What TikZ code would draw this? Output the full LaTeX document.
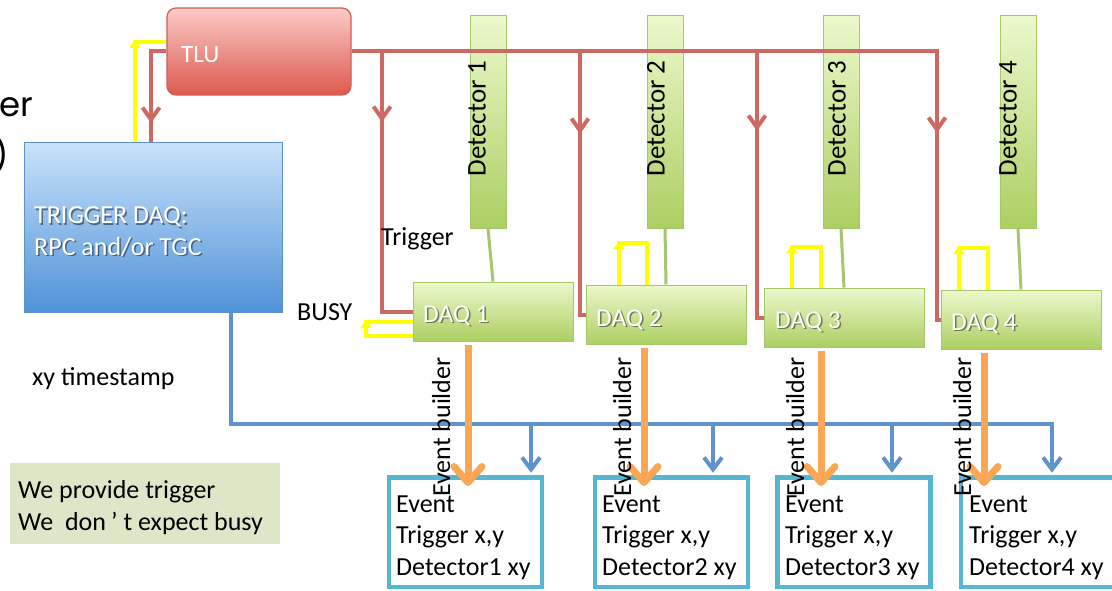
\documentclass[tikz,border=0pt]{standalone}
\usepackage{fontspec}
\setmainfont{Carlito}
\newfontfamily\gothicfont{Poppins}
\usetikzlibrary{arrows.meta,calc}
\definecolor{redln}{RGB}{206,104,98}
\definecolor{tlutop}{RGB}{252,202,200}
\definecolor{tlubot}{RGB}{220,90,78}
\definecolor{tlubrd}{RGB}{205,95,88}
\definecolor{bluetop}{RGB}{200,226,250}
\definecolor{bluebot}{RGB}{80,146,216}
\definecolor{bluebrd}{RGB}{95,145,205}
\definecolor{blueln}{RGB}{96,146,204}
\definecolor{grntop}{RGB}{236,249,204}
\definecolor{grnbot}{RGB}{172,207,98}
\definecolor{grnbrd}{RGB}{165,200,105}
\definecolor{grnln}{RGB}{165,198,110}
\definecolor{orangeln}{RGB}{250,166,84}
\definecolor{cyanln}{RGB}{86,182,208}
\definecolor{notefill}{RGB}{222,230,200}
\definecolor{yelln}{RGB}{255,255,0}
\tikzset{
  tlubox/.style={draw=tlubrd, line width=1.2pt, rounded corners=9pt, top color=tlutop, bottom color=tlubot, minimum width=184pt, minimum height=87pt, inner sep=0pt},
  trigbox/.style={draw=bluebrd, line width=1pt, top color=bluetop, bottom color=bluebot, minimum width=258pt, minimum height=169pt, inner sep=0pt},
  detbox/.style={draw=grnbrd, line width=1pt, top color=grntop, bottom color=grnbot, minimum width=36pt, minimum height=212pt, inner sep=0pt},
  daqbox/.style={draw=grnbrd, line width=1pt, top color=grntop, bottom color=grnbot, minimum width=160pt, minimum height=59pt, inner sep=0pt},
  evbox/.style={draw=cyanln, line width=4.5pt, fill=white, minimum width=153pt, minimum height=109.5pt, inner sep=0pt},
  notebox/.style={fill=notefill, minimum width=270pt, minimum height=81pt, inner sep=0pt},
  txt/.style={font=\fontsize{26}{31.5}\selectfont, inner sep=0pt, anchor=base west, text=black, align=left},
  wtxt/.style={txt, text=white},
  shtxt/.style={txt, text=black, text opacity=0.45},
  daqtxt/.style={font=\fontsize{25.5}{25.5}\selectfont},
  rottxt/.style={txt, rotate=90},
  redline/.style={draw=redln, line width=4pt},
  redbarb/.style={-{Straight Barb[length=12pt,width=17pt]}},
  blueline/.style={draw=blueln, line width=4pt},
  bluebarb/.style={-{Straight Barb[length=12pt,width=18pt]}},
  grnline/.style={draw=grnln, line width=3pt},
  orangearrow/.style={draw=orangeln, line width=7pt, -{Straight Barb[length=16pt,width=28pt,round]}},
  yelline/.style={draw=yelln, line width=4pt},
  yelhead/.style={-{Triangle[length=8pt,width=11pt]}},
}
\begin{document}
\begin{tikzpicture}[x=1pt,y=-1pt]
\useasboundingbox[fill=white] (0,0) rectangle (1112,591);

% cut-off text at left edge
\node[txt, anchor=base east, font=\gothicfont\fontsize{34}{34}\selectfont] (cut1) at (33,117) {er};
\node[txt, anchor=base east, font=\gothicfont\fontsize{34}{34}\selectfont] (cut2) at (9,168) {)};

% boxes
\node[notebox] (note) at (145,503.5) {};
\node[tlubox] (tlu) at (259,51.5) {};
\node[trigbox] (tdaq) at (153,227.5) {};
\foreach \i/\x in {1/488,2/665,3/841,4/1018}{
  \node[detbox] (det\i) at (\x,122) {};
}
\node[daqbox] (daq1) at (493,311.5) {};
\node[daqbox] (daq2) at (666,314.5) {};
\node[daqbox] (daq3) at (844,317.5) {};
\node[daqbox] (daq4) at (1021,319.5) {};
\node[evbox] (ev1) at (465.5,532.25) {};
\node[evbox] (ev2) at (671.5,532.25) {};
\node[evbox] (ev3) at (854,532.25) {};
\node[evbox] (ev4) at (1037.5,532.25) {};

% detector labels
\node[rottxt, font=\fontsize{27}{27}\selectfont] (det1t) at ($(det1.south west)+(16,-52)$) {Detector 1};
\node[rottxt, font=\fontsize{27}{27}\selectfont] (det2t) at ($(det2.south west)+(18,-52)$) {Detector 2};
\node[rottxt, font=\fontsize{27}{27}\selectfont] (det3t) at ($(det3.south west)+(23,-52)$) {Detector 3};
\node[rottxt, font=\fontsize{27}{27}\selectfont] (det4t) at ($(det4.south west)+(17,-52)$) {Detector 4};

% green connectors detector -> DAQ
\foreach \i in {1,2,3,4}{
  \draw[grnline] (det\i.south) -- (daq\i.north);
}

% red TLU trigger bus
\coordinate (b1) at (382,51.5);
\coordinate (b2) at (580,51.5);
\coordinate (b3) at (757,51.5);
\coordinate (b4) at (937,51.5);
\draw[redline] (tlu.east) -- (b4) |- (daq4.west);
\draw[redline] (b1) |- (daq1.west);
\draw[redline] (b2) |- (daq2.west);
\draw[redline] (b3) |- (daq3.west);
\coordinate (r1) at (382,122);
\coordinate (r2) at (580,134);
\coordinate (r3) at (757,131);
\coordinate (r4) at (937,133);
\foreach \i in {1,2,3,4}{
  \draw[redline, redbarb] (b\i) -- (r\i);
}
% red TLU -> trigger DAQ
\coordinate (rl) at (151,123);
\draw[redline] (tlu.west) -| (rl |- tdaq.north);
\draw[redline, redbarb] (rl |- tlu.west) -- (rl);

% yellow trigger DAQ -> TLU
\coordinate (yl) at (135,42);
\draw[yelline] (yl |- tdaq.north) -- (yl) -- (yl -| tlu.west);
\draw[yelline, yelhead] ($(yl)+(0,10)$) -- ($(yl)+(0,-2)$);

% yellow busy loops
\coordinate (y1) at (366,322);
\coordinate (y2) at (366,336);
\draw[yelline] (y2 -| daq1.west) -- (y2) -- (y1) -- (y1 -| daq1.west);
\draw[yelline, yelhead] ($(y1)+(0,8)$) -- ($(y1)+(0,-2)$);
\coordinate (q2a) at (619,243); \coordinate (q2b) at (647,243);
\coordinate (q3a) at (792,247); \coordinate (q3b) at (821,247);
\coordinate (q4a) at (959,248); \coordinate (q4b) at (988,248);
\foreach \i in {2,3,4}{
  \draw[yelline] (q\i a |- daq\i.north) -- (q\i a) -- (q\i b) -- (q\i b |- daq\i.north);
  \draw[yelline, yelhead] ($(q\i a)+(0,10)$) -- ($(q\i a)+(0,-2)$);
}

% blue timestamp bus
\coordinate (bt) at (231,424);
\coordinate (be) at (1052,424);
\coordinate (t1) at (531,424);
\coordinate (t2) at (713,424);
\coordinate (t3) at (892,424);
\draw[blueline, bluebarb] (bt |- tdaq.south) -- (bt) -- (be) -- ($(be |- ev4.north)+(0,-2.5)$);
\draw[blueline, bluebarb] (t1) -- ($(t1 |- ev1.north)+(0,-2.5)$);
\draw[blueline, bluebarb] (t2) -- ($(t2 |- ev2.north)+(0,-2.5)$);
\draw[blueline, bluebarb] (t3) -- ($(t3 |- ev3.north)+(0,-2.5)$);

% orange event builder arrows
\coordinate (o1) at (468,486);
\coordinate (o2) at (644,486);
\coordinate (o3) at (821,486);
\coordinate (o4) at (984,486);
\foreach \i in {1,2,3,4}{
  \draw[orangearrow] ($(o\i |- daq\i.south)+(0,3)$) -- (o\i);
}

% event builder labels
\node[rottxt] (eb1) at (450,497) {Event builder};
\node[rottxt] (eb2) at (631,497) {Event builder};
\node[rottxt] (eb3) at (804,497) {Event builder};
\node[rottxt] (eb4) at (971,497) {Event builder};

% texts in boxes
\node[wtxt, font=\fontsize{25}{25}\selectfont] (tlut) at (181,63) {TLU};
\node[shtxt] at (35.5,256.5) {TRIGGER DAQ:\\RPC and/or TGC};
\node[wtxt] (tdaqt) at (34,255) {TRIGGER DAQ:\\RPC and/or TGC};
\node[shtxt, daqtxt] at (424.5,323.5) {DAQ 1};
\node[wtxt, daqtxt] (daq1t) at (423,322) {DAQ 1};
\node[shtxt, daqtxt] at (597.5,327.5) {DAQ 2};
\node[wtxt, daqtxt] (daq2t) at (596,326) {DAQ 2};
\node[shtxt, daqtxt] at (776.5,329.5) {DAQ 3};
\node[wtxt, daqtxt] (daq3t) at (775,328) {DAQ 3};
\node[shtxt, daqtxt] at (952.5,331.5) {DAQ 4};
\node[wtxt, daqtxt] (daq4t) at (951,330) {DAQ 4};

\node[txt] (ev1t) at (396,575) {Event\\Trigger x,y\\Detector1 xy};
\node[txt] (ev2t) at (602,575) {Event\\Trigger x,y\\Detector2 xy};
\node[txt] (ev3t) at (785,575) {Event\\Trigger x,y\\Detector3 xy};
\node[txt] (ev4t) at (969,575) {Event\\Trigger x,y\\Detector4 xy};

% free labels
\node[txt] (lbltrig) at (381,245) {Trigger};
\node[txt] (lblbusy) at (297,320) {BUSY};
\node[txt] (lblxy) at (32,385) {xy timestamp};
\node[txt] (notet) at (18,530) {We provide trigger\\We\ \ don\kern5pt’\kern6pt t expect busy};
\end{tikzpicture}
\end{document}
